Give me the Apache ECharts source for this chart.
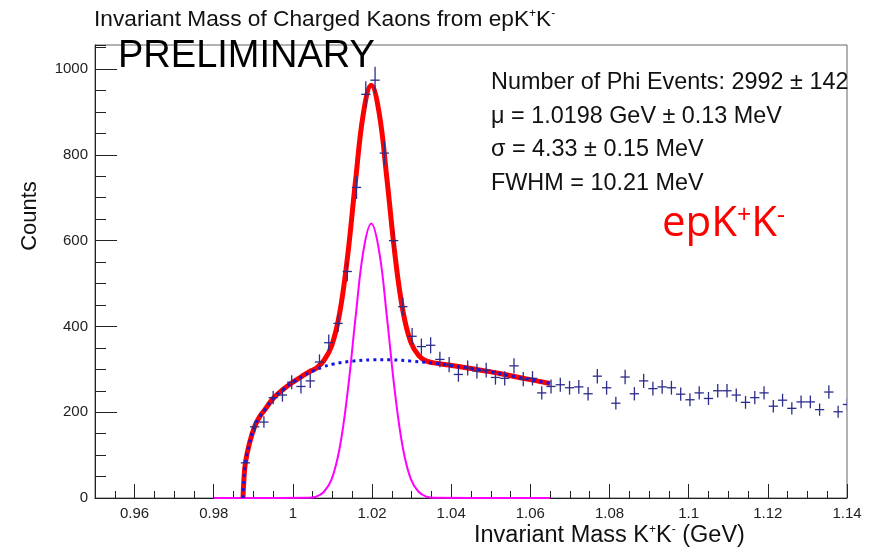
<!DOCTYPE html>
<html>
<head>
<meta charset="utf-8">
<script src="https://cdn.jsdelivr.net/npm/echarts@6/dist/echarts.min.js"></script>
<style>
  html, body { margin: 0; padding: 0; background: #fff; }
  #kk_chart { width: 877px; height: 553px; }
</style>
</head>
<body>
<div id="kk_chart"></div>
<script>
// histogram: bin centres start at binFirst, step binWidth (GeV)
var binFirst = 0.9880;
var binWidth = 0.00234;
var counts = [82, 166, 177, 234, 240, 270, 260, 273, 317, 362,
              407, 528, 724, 941, 974, 804, 600, 446, 377, 353,
              356, 323, 311, 288, 303, 296, 298, 281, 279, 308,
              277, 279, 245, 260, 264, 257, 259, 243, 284, 257,
              221, 282, 243, 273, 255, 259, 257, 242, 229, 245,
              232, 250, 250, 240, 223, 234, 245, 214, 228, 209,
              224, 224, 206, 247, 201, 218];

// total fit (red)
var fitX = [0.9874, 0.9876, 0.9880, 0.9890, 0.9903, 0.9915, 0.9930, 0.9950, 0.9975, 1.0000,
            1.0025, 1.0045, 1.0058, 1.0078, 1.0098, 1.0118, 1.0138, 1.0158, 1.0178, 1.0198,
            1.0218, 1.0238, 1.0258, 1.0278, 1.0298, 1.0318, 1.0338, 1.0370, 1.0400, 1.0450,
            1.0500, 1.0550, 1.0600, 1.0650];
var fitY = [0, 40, 82, 127, 166, 188, 207, 232, 253, 270,
            285, 296, 302, 320, 355, 430, 562, 737, 896, 962,
            897, 740, 566, 436, 363, 332, 319, 313, 309, 302,
            294, 285, 276, 267];

// background (blue dotted)
var bgX = [0.9874, 0.9876, 0.9880, 0.9890, 0.9903, 0.9915, 0.9930, 0.9950, 0.9975, 1.0000,
           1.0025, 1.0050, 1.0075, 1.0100, 1.0150, 1.0200, 1.0250, 1.0300, 1.0350, 1.0400,
           1.0450, 1.0500, 1.0550, 1.0600, 1.0650];
var bgY = [0, 40, 82, 127, 166, 188, 207, 232, 253, 270,
           284, 296, 305, 312, 319, 322, 322, 319, 315, 309,
           302, 294, 285, 276, 267];

// signal gaussian (magenta)
var sigX = [0.9800, 1.0040, 1.0058, 1.0078, 1.0098, 1.0118, 1.0138, 1.0158, 1.0178, 1.0198,
            1.0218, 1.0238, 1.0258, 1.0278, 1.0298, 1.0318, 1.0338, 1.0356, 1.0650];
var sigY = [0, 0.5, 3, 14, 44, 116, 245, 418, 575, 640,
            575, 418, 245, 116, 44, 14, 3, 0.5, 0];

var xMajor = [0.96, 0.98, 1, 1.02, 1.04, 1.06, 1.08, 1.1, 1.12, 1.14];
var yMajor = [0, 200, 400, 600, 800, 1000];

function zip(a, b) {
    return a.map(function (v, i) { return [v, b[i]]; });
}

var myChart = echarts.init(document.getElementById('kk_chart'));

var FONT = '"Liberation Sans", Arial, sans-serif';
var supStyle = { fontSize: 12, fontFamily: FONT, verticalAlign: 'top', fill: '#111' };

var option = {
    animation: false,
    backgroundColor: '#fff',
    grid: { left: 95, right: 30, top: 45, bottom: 55, show: true, borderColor: '#666', borderWidth: 1 },
    xAxis: [
        {   // minor ticks
            type: 'value', min: 0.95, max: 1.14, interval: 0.005, position: 'bottom', offset: 0,
            axisLine: { show: true, lineStyle: { color: '#222', width: 1 } },
            axisTick: { inside: true, length: 7, lineStyle: { color: '#222' } },
            axisLabel: { show: false },
            splitLine: { show: false }
        },
        {   // major ticks + labels
            type: 'value', min: 0.95, max: 1.14, position: 'bottom', offset: 0,
            axisLine: { show: false },
            axisTick: { show: true, inside: true, length: 14, customValues: xMajor, lineStyle: { color: '#222' } },
            axisLabel: { customValues: xMajor, margin: 8, color: '#222', fontSize: 15, fontFamily: FONT,
                         formatter: function (v) { return String(v); } },
            splitLine: { show: false }
        }
    ],
    yAxis: [
        {
            type: 'value', min: 0, max: 1056, interval: 50, position: 'left', offset: 0,
            axisLine: { show: true, lineStyle: { color: '#222', width: 1 } },
            axisTick: { inside: true, length: 11, lineStyle: { color: '#222' } },
            axisLabel: { show: false },
            splitLine: { show: false }
        },
        {
            type: 'value', min: 0, max: 1056, position: 'left', offset: 0,
            axisLine: { show: false },
            axisTick: { show: true, inside: true, length: 22, customValues: yMajor, lineStyle: { color: '#222' } },
            axisLabel: { customValues: yMajor, margin: 7, color: '#222', fontSize: 15, fontFamily: FONT,
                         formatter: function (v) { return String(v); } },
            splitLine: { show: false }
        }
    ],
    series: [
        {
            name: 'signal', type: 'line', data: zip(sigX, sigY),
            showSymbol: false, smooth: 0.4, z: 2,
            lineStyle: { color: '#ff00ff', width: 2 }
        },
        {
            name: 'fit', type: 'line', data: zip(fitX, fitY),
            showSymbol: false, smooth: 0.4, z: 3,
            lineStyle: { color: '#ff0000', width: 5 }
        },
        {
            name: 'background', type: 'line', data: zip(bgX, bgY),
            showSymbol: false, smooth: 0.4, z: 4,
            lineStyle: { color: '#1414e6', width: 3, type: [3, 4] }
        },
        {
            name: 'data', type: 'custom', z: 5, clip: true,
            data: counts.map(function (c, i) { return [binFirst + i * binWidth, c]; }),
            encode: { x: 0, y: 1 },
            renderItem: function (params, api) {
                var x = api.value(0), y = api.value(1);
                var err = Math.sqrt(y);   // poisson error bar
                var l = api.coord([x - binWidth / 2, y]);
                var r = api.coord([x + binWidth / 2, y]);
                var t = api.coord([x, y + err]);
                var b = api.coord([x, y - err]);
                var st = { stroke: '#2c2c8c', lineWidth: 1.3 };
                return {
                    type: 'group',
                    children: [
                        { type: 'line', shape: { x1: l[0], y1: l[1], x2: r[0], y2: r[1] }, style: st },
                        { type: 'line', shape: { x1: t[0], y1: t[1], x2: b[0], y2: b[1] }, style: st }
                    ]
                };
            }
        }
    ],
    graphic: [
        {
            type: 'text', left: 94, top: 8,
            style: {
                text: 'Invariant Mass of Charged Kaons from epK{sup|+}K{sup|-}',
                font: '22.7px ' + FONT, fill: '#111',
                rich: { sup: supStyle }
            }
        },
        {
            type: 'text', left: 118, top: 38,
            style: { text: 'PRELIMINARY', font: '38px ' + FONT, fill: '#000' }
        },
        {
            type: 'text', left: 491, top: 66,
            style: {
                text: 'Number of Phi Events: 2992 \u00b1 142\n\u03bc = 1.0198 GeV \u00b1 0.13 MeV\n\u03c3 = 4.33 \u00b1 0.15 MeV\nFWHM = 10.21 MeV',
                font: '23.4px ' + FONT, fill: '#111', lineHeight: 33.5
            }
        },
        {
            type: 'text', left: 662, top: 203,
            style: {
                text: 'epK{sup|+}K{sup|-}',
                font: '42px "Open Sans", sans-serif', fill: '#ff0000',
                rich: { sup: { fontSize: 25, fontFamily: '"Open Sans", sans-serif', verticalAlign: 'top', fill: '#ff0000' } }
            }
        },
        {
            type: 'text', x: 30, y: 216, rotation: Math.PI / 2,
            style: { text: 'Counts', font: '22px ' + FONT, fill: '#111', align: 'center', verticalAlign: 'middle', textAlign: 'center', textVerticalAlign: 'middle' }
        },
        {
            type: 'text', left: 474, top: 524,
            style: {
                text: 'Invariant Mass K{sup|+}K{sup|-} (GeV)',
                font: '23.5px ' + FONT, fill: '#111',
                rich: { sup: supStyle }
            }
        }
    ]
};

myChart.setOption(option);
</script>
</body>
</html>
